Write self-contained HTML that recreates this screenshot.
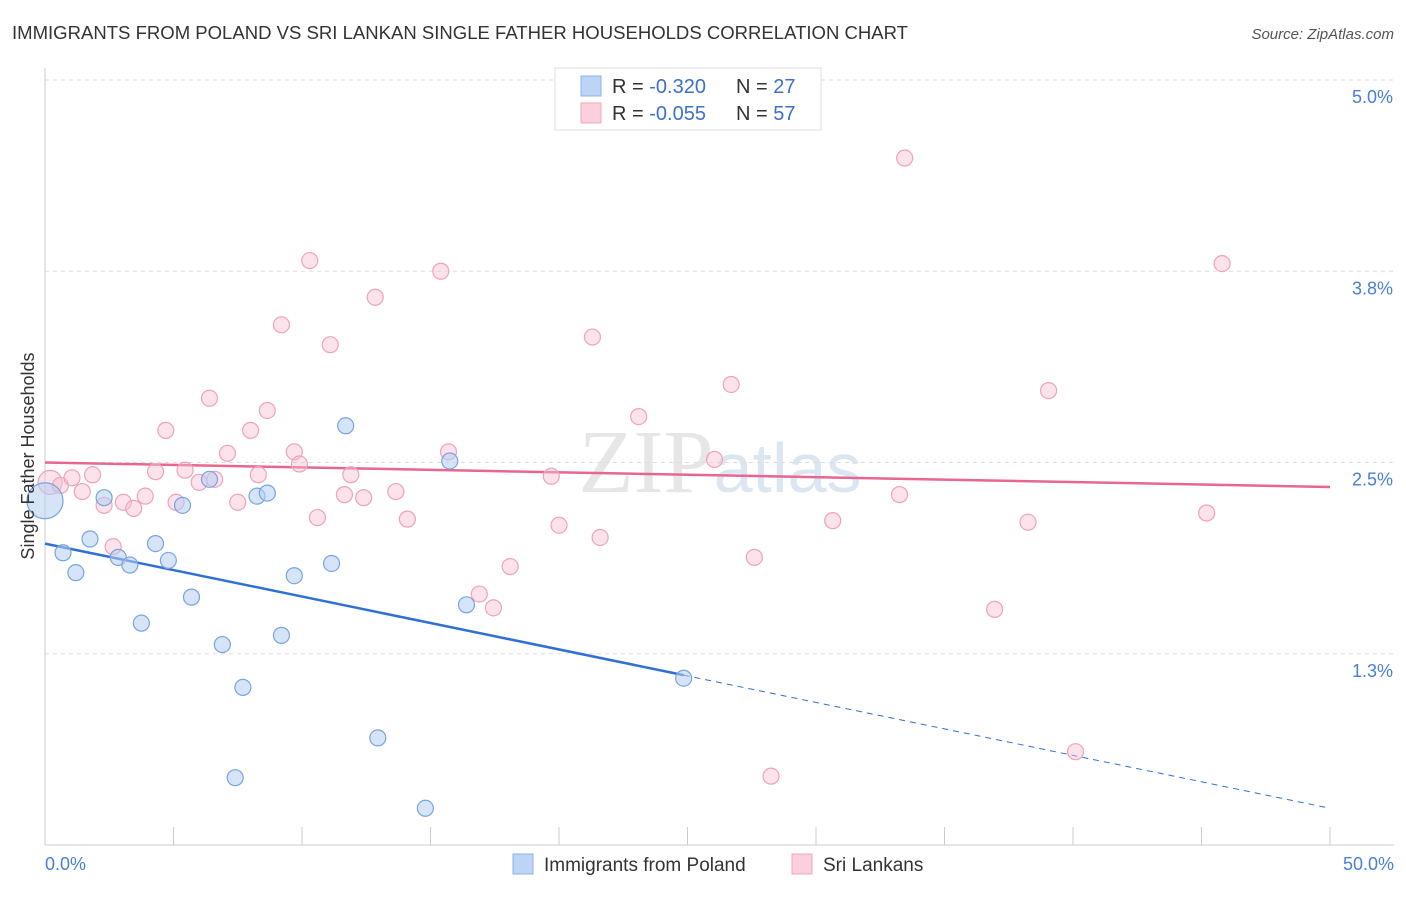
<!DOCTYPE html>
<html><head><meta charset="utf-8"><style>
body{margin:0;background:#fff;font-family:"Liberation Sans",sans-serif;overflow:hidden;}
</style></head><body>
<svg width="1406" height="892" xmlns="http://www.w3.org/2000/svg" font-family="Liberation Sans, sans-serif">
<text x="12" y="39" font-size="18" fill="#333" textLength="896" lengthAdjust="spacingAndGlyphs">IMMIGRANTS FROM POLAND VS SRI LANKAN SINGLE FATHER HOUSEHOLDS CORRELATION CHART</text>
<text x="1394" y="39" font-size="15" fill="#555" font-style="italic" text-anchor="end">Source: ZipAtlas.com</text>
<text x="720" y="492" font-size="90" fill="#e6e6e6" text-anchor="middle" font-family="Liberation Serif, serif">ZIP<tspan fill="#dce6f3" font-family="Liberation Sans, sans-serif" font-size="70">atlas</tspan></text>
<g id="grid"></g>
<g id="axes"></g>
<g id="lines"></g>
<g id="pts"></g>
<text transform="translate(34,456) rotate(-90)" font-size="18" fill="#333" text-anchor="middle">Single Father Households</text>
<g>
<rect x="555" y="68" width="266" height="62" fill="#fff" stroke="#ddd"/>
<rect x="581" y="76" width="20" height="20" fill="#bcd4f5" stroke="#8fb2e6"/>
<text x="612" y="93" font-size="20" fill="#333">R = <tspan fill="#3b6fd1">-0.320</tspan></text>
<text x="736" y="93" font-size="20" fill="#333">N = <tspan fill="#3b6fd1">27</tspan></text>
<rect x="581" y="103" width="20" height="20" fill="#fbcfdc" stroke="#f2a5bd"/>
<text x="612" y="120" font-size="20" fill="#333">R = <tspan fill="#3b6fd1">-0.055</tspan></text>
<text x="736" y="120" font-size="20" fill="#333">N = <tspan fill="#3b6fd1">57</tspan></text>
</g>
<g>
<rect x="513" y="854" width="20" height="20" fill="#bcd4f5" stroke="#8fb2e6"/>
<text x="544" y="871" font-size="19" fill="#333">Immigrants from Poland</text>
<rect x="792" y="854" width="20" height="20" fill="#fbcfdc" stroke="#f2a5bd"/>
<text x="823" y="871" font-size="19" fill="#333">Sri Lankans</text>
</g>
</svg>
<script>
const yTicks=[5.0,3.75,2.5,1.25];
const yTickLabels=["5.0%","3.8%","2.5%","1.3%"];
const xTickLabels=["0.0%","50.0%"];
const polandX=[0,0.7,1.2,1.75,2.3,2.85,3.3,3.75,4.3,4.8,5.35,5.7,6.4,6.9,7.7,7.4,8.25,8.65,9.2,9.7,11.15,11.7,12.95,14.8,15.75,16.4,24.85];
const polandY=[2.25,1.91,1.78,2.0,2.27,1.88,1.83,1.45,1.97,1.86,2.22,1.62,2.39,1.31,1.03,0.44,2.28,2.30,1.37,1.76,1.84,2.74,0.70,0.24,2.51,1.57,1.09];
const sriX=[0.2,0.6,1.05,1.45,1.85,2.3,2.65,3.05,3.45,3.9,4.3,4.7,5.1,5.45,6.0,6.4,6.6,7.1,7.5,8.0,8.3,8.65,9.2,9.7,9.9,10.3,10.6,11.1,11.65,11.9,12.4,12.85,13.65,14.1,15.4,15.7,16.9,17.45,18.1,19.7,20.0,21.3,21.6,23.1,26.05,26.7,27.6,28.25,30.65,33.25,33.45,36.95,38.25,39.05,40.1,45.2,45.8];
const sriY=[2.37,2.35,2.40,2.31,2.42,2.22,1.95,2.24,2.20,2.28,2.44,2.71,2.24,2.45,2.37,2.92,2.39,2.56,2.24,2.71,2.42,2.84,3.40,2.57,2.49,3.82,2.14,3.27,2.29,2.42,2.27,3.58,2.31,2.13,3.75,2.57,1.64,1.55,1.82,2.41,2.09,3.32,2.01,2.80,2.52,3.01,1.88,0.45,2.12,2.29,4.49,1.54,2.11,2.97,0.61,2.17,3.80];
const polandTrend=[1.97,-0.0346,24.85];
const sriTrend=[2.50,-0.0032];
const NS="http://www.w3.org/2000/svg";
const X=v=>45+v*25.7, Y=v=>80+(5-v)*153;
function mk(tag,attrs,parent){const e=document.createElementNS(NS,tag);for(const k in attrs)e.setAttribute(k,attrs[k]);document.getElementById(parent).appendChild(e);return e;}
yTicks.forEach((t,i)=>{
 const g=mk('line',{x1:45,x2:1394,y1:Y(t),y2:Y(t),stroke:'#ddd','stroke-dasharray':'4,4'},'grid');
 
 
 const l=mk('text',{x:1393,y:Y(t)+23,'font-size':18,fill:'#4a7fd6','text-anchor':'end'},'axes');l.textContent=yTickLabels[i];
 
 
});
mk('line',{x1:45,x2:45,y1:68,y2:845,stroke:'#ccc'},'axes');
mk('line',{x1:45,x2:1394,y1:845,y2:845,stroke:'#ccc'},'axes');
for(let i=0;i<=10;i++){const t=mk('line',{x1:X(i*5),x2:X(i*5),y1:827,y2:845,stroke:'#ccc'},'axes');
 
 }
[[0,45,'start'],[50,1394,'end']].forEach((d,i)=>{const l=mk('text',{x:d[1],y:870,'font-size':18,fill:'#4a7fd6','text-anchor':d[2]},'axes');l.textContent=xTickLabels[i];
 
 });
const pe=polandTrend[2];
let a=mk('line',{x1:X(0),y1:Y(polandTrend[0]),x2:X(pe),y2:Y(polandTrend[0]+polandTrend[1]*pe),stroke:'#2f6fd6','stroke-width':2.5},'lines');


a=mk('line',{x1:X(pe),y1:Y(polandTrend[0]+polandTrend[1]*pe),x2:X(50),y2:Y(polandTrend[0]+polandTrend[1]*50),stroke:'#2f6fd6','stroke-width':1,'stroke-dasharray':'6,5'},'lines');


a=mk('line',{x1:X(0),y1:Y(sriTrend[0]),x2:X(50),y2:Y(sriTrend[0]+sriTrend[1]*50),stroke:'#e8668f','stroke-width':2.5},'lines');


sriX.forEach((x,i)=>{const c=mk('circle',{cx:X(x),cy:Y(sriY[i]),r:i==0?12:8,fill:'rgba(248,190,208,0.45)',stroke:'#eea3bb','stroke-width':1.2},'pts');
 
 });
polandX.forEach((x,i)=>{const c=mk('circle',{cx:X(x),cy:Y(polandY[i]),r:i==0?18:8,fill:'rgba(180,205,243,0.55)',stroke:'#7aa3df','stroke-width':1.2},'pts');
 
 });
</script>
</body></html>
